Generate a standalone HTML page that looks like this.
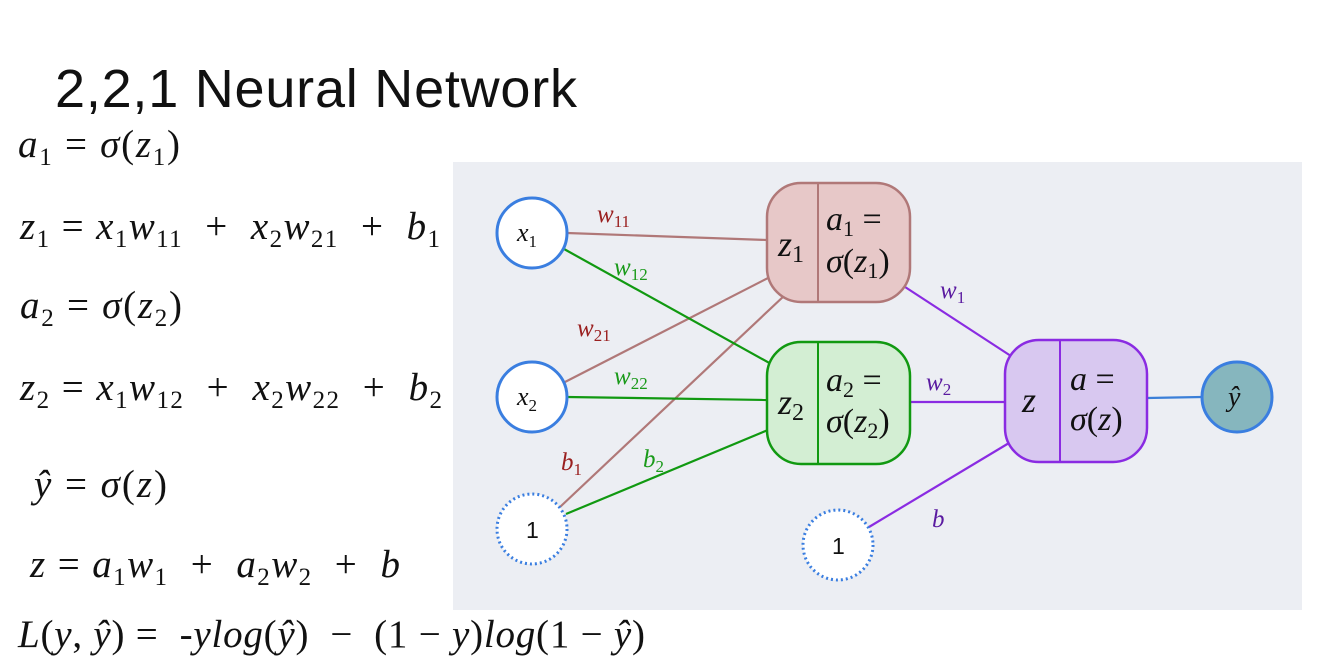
<!DOCTYPE html>
<html><head><meta charset="utf-8"><style>
html,body{margin:0;padding:0;background:#fff;width:1327px;height:661px;overflow:hidden}
svg{display:block}
text{white-space:pre}
.eq{font-family:"Liberation Serif",serif;font-style:italic;font-size:39px;fill:#111}
.up{font-style:normal}
.t{font-family:"Liberation Serif",serif;font-style:italic}
</style></head><body>
<svg width="1327" height="661" viewBox="0 0 1327 661" xmlns="http://www.w3.org/2000/svg" xml:space="preserve">
<rect width="1327" height="661" fill="#fff"/>
<rect x="453" y="162" width="849" height="448" fill="#eceef3"/>
<text x="55" y="107" font-family="Liberation Sans,sans-serif" font-size="54" fill="#111" textLength="522">2,2,1 Neural Network</text>

<text class="eq" x="18" y="157" textLength="162" lengthAdjust="spacing">a<tspan font-size="25" dy="8" class="up">1</tspan><tspan dy="-8" class="up"> = </tspan>σ<tspan class="up">(</tspan>z<tspan font-size="25" dy="8" class="up">1</tspan><tspan dy="-8" class="up">)</tspan></text>
<text class="eq" x="20" y="239" textLength="420" lengthAdjust="spacing">z<tspan font-size="25" dy="8" class="up">1</tspan><tspan dy="-8" class="up"> = </tspan>x<tspan font-size="25" dy="8" class="up">1</tspan><tspan dy="-8">w</tspan><tspan font-size="25" dy="8" class="up">11</tspan><tspan dy="-8" class="up">  +  </tspan>x<tspan font-size="25" dy="8" class="up">2</tspan><tspan dy="-8">w</tspan><tspan font-size="25" dy="8" class="up">21</tspan><tspan dy="-8" class="up">  +  </tspan>b<tspan font-size="25" dy="8" class="up">1</tspan></text>
<text class="eq" x="20" y="318" textLength="162" lengthAdjust="spacing">a<tspan font-size="25" dy="8" class="up">2</tspan><tspan dy="-8" class="up"> = </tspan>σ<tspan class="up">(</tspan>z<tspan font-size="25" dy="8" class="up">2</tspan><tspan dy="-8" class="up">)</tspan></text>
<text class="eq" x="20" y="400" textLength="422" lengthAdjust="spacing">z<tspan font-size="25" dy="8" class="up">2</tspan><tspan dy="-8" class="up"> = </tspan>x<tspan font-size="25" dy="8" class="up">1</tspan><tspan dy="-8">w</tspan><tspan font-size="25" dy="8" class="up">12</tspan><tspan dy="-8" class="up">  +  </tspan>x<tspan font-size="25" dy="8" class="up">2</tspan><tspan dy="-8">w</tspan><tspan font-size="25" dy="8" class="up">22</tspan><tspan dy="-8" class="up">  +  </tspan>b<tspan font-size="25" dy="8" class="up">2</tspan></text>
<text class="eq" x="34" y="497" textLength="133" lengthAdjust="spacing">ŷ<tspan class="up"> = </tspan>σ<tspan class="up">(</tspan>z<tspan class="up">)</tspan></text>
<text class="eq" x="30" y="577" textLength="370" lengthAdjust="spacing">z<tspan class="up"> = </tspan>a<tspan font-size="25" dy="8" class="up">1</tspan><tspan dy="-8">w</tspan><tspan font-size="25" dy="8" class="up">1</tspan><tspan dy="-8" class="up">  +  </tspan>a<tspan font-size="25" dy="8" class="up">2</tspan><tspan dy="-8">w</tspan><tspan font-size="25" dy="8" class="up">2</tspan><tspan dy="-8" class="up">  +  </tspan>b</text>
<text class="eq" x="18" y="647" textLength="627" lengthAdjust="spacing">L<tspan class="up">(</tspan>y<tspan class="up">, </tspan>ŷ<tspan class="up">) =  </tspan>-ylog<tspan class="up">(</tspan>ŷ<tspan class="up">)  −  (1 − </tspan>y<tspan class="up">)</tspan>log<tspan class="up">(1 − </tspan>ŷ<tspan class="up">)</tspan></text>

<g stroke-width="2.2" fill="none">
<line x1="567" y1="233" x2="767" y2="240" stroke="#b07878"/>
<line x1="565" y1="382" x2="768" y2="278" stroke="#b07878"/>
<line x1="560" y1="507" x2="785" y2="295" stroke="#b07878"/>
<line x1="564" y1="249" x2="773" y2="365" stroke="#119911"/>
<line x1="567" y1="397" x2="767" y2="400" stroke="#119911"/>
<line x1="566" y1="514" x2="768" y2="430" stroke="#119911"/>
<line x1="902" y1="285" x2="1014" y2="358" stroke="#8a2be2"/>
<line x1="910" y1="402" x2="1005" y2="402" stroke="#8a2be2"/>
<line x1="869" y1="527" x2="1014" y2="440" stroke="#8a2be2"/>
<line x1="1147" y1="398" x2="1202" y2="397" stroke="#3b7fd8"/>
</g>

<circle cx="532" cy="233" r="35" fill="#fff" stroke="#3a7ee0" stroke-width="3"/>
<circle cx="532" cy="397" r="35" fill="#fff" stroke="#3a7ee0" stroke-width="3"/>
<circle cx="532" cy="529" r="35" fill="#fff" stroke="#3a7ee0" stroke-width="3" stroke-dasharray="2 3"/>
<circle cx="838" cy="545" r="35" fill="#fff" stroke="#3a7ee0" stroke-width="3" stroke-dasharray="2 3"/>
<circle cx="1237" cy="397" r="35" fill="#86b6be" stroke="#3a7ee0" stroke-width="3"/>
<text class="t" x="517" y="241" font-size="26" fill="#111">x<tspan font-size="17" dy="6" class="up">1</tspan></text>
<text class="t" x="517" y="405" font-size="26" fill="#111">x<tspan font-size="17" dy="6" class="up">2</tspan></text>
<text x="526" y="538" font-family="Liberation Sans,sans-serif" font-size="23" fill="#111">1</text>
<text x="832" y="554" font-family="Liberation Sans,sans-serif" font-size="23" fill="#111">1</text>
<text class="t" x="1228" y="406" font-size="28" fill="#111">ŷ</text>

<rect x="767" y="183" width="143" height="119" rx="34" fill="#e7c8c8" stroke="#b07878" stroke-width="2.5"/>
<line x1="818" y1="183" x2="818" y2="302" stroke="#b07878" stroke-width="2"/>
<rect x="767" y="342" width="143" height="122" rx="34" fill="#d3eed3" stroke="#119911" stroke-width="2.5"/>
<line x1="818" y1="342" x2="818" y2="464" stroke="#119911" stroke-width="2"/>
<rect x="1005" y="340" width="142" height="122" rx="34" fill="#d8c8f0" stroke="#8a2be2" stroke-width="2.5"/>
<line x1="1060" y1="340" x2="1060" y2="462" stroke="#8a2be2" stroke-width="2"/>

<g class="t" fill="#111">
<text x="778" y="256" font-size="36">z<tspan font-size="24" dy="6" class="up">1</tspan></text>
<text x="826" y="230" font-size="34">a<tspan font-size="22" dy="6" class="up">1</tspan><tspan dy="-6" class="up"> =</tspan></text>
<text x="826" y="272" font-size="34">σ<tspan class="up">(</tspan>z<tspan font-size="22" dy="6" class="up">1</tspan><tspan dy="-6" class="up">)</tspan></text>
<text x="778" y="414" font-size="36">z<tspan font-size="24" dy="6" class="up">2</tspan></text>
<text x="826" y="391" font-size="34">a<tspan font-size="22" dy="6" class="up">2</tspan><tspan dy="-6" class="up"> =</tspan></text>
<text x="826" y="432" font-size="34">σ<tspan class="up">(</tspan>z<tspan font-size="22" dy="6" class="up">2</tspan><tspan dy="-6" class="up">)</tspan></text>
<text x="1022" y="412" font-size="36">z</text>
<text x="1070" y="390" font-size="34">a<tspan class="up"> =</tspan></text>
<text x="1070" y="430" font-size="34">σ<tspan class="up">(</tspan>z<tspan class="up">)</tspan></text>
</g>

<g class="t" font-size="25">
<text x="597" y="222" fill="#9a2020">w<tspan font-size="17" dy="5" class="up">11</tspan></text>
<text x="614" y="275" fill="#1a9a1a">w<tspan font-size="17" dy="5" class="up">12</tspan></text>
<text x="577" y="336" fill="#9a2020">w<tspan font-size="17" dy="5" class="up">21</tspan></text>
<text x="614" y="384" fill="#1a9a1a">w<tspan font-size="17" dy="5" class="up">22</tspan></text>
<text x="561" y="470" fill="#9a2020">b<tspan font-size="17" dy="5" class="up">1</tspan></text>
<text x="643" y="467" fill="#1a9a1a">b<tspan font-size="17" dy="5" class="up">2</tspan></text>
<text x="940" y="298" fill="#5a1aa0">w<tspan font-size="17" dy="5" class="up">1</tspan></text>
<text x="926" y="390" fill="#5a1aa0">w<tspan font-size="17" dy="5" class="up">2</tspan></text>
<text x="932" y="527" fill="#5a1aa0">b</text>
</g>
</svg>
</body></html>
